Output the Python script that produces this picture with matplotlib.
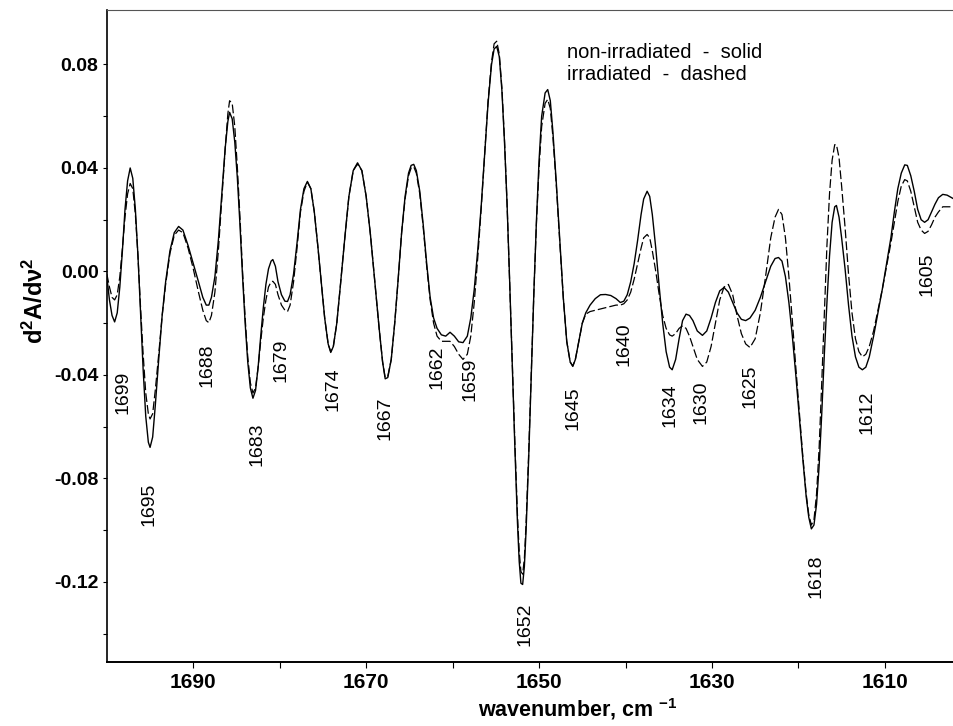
import numpy as np
import matplotlib
matplotlib.use("Agg")
import matplotlib.pyplot as plt
from matplotlib.ticker import FixedLocator, FormatStrFormatter

plt.rcParams['font.family'] = ['Liberation Sans', 'DejaVu Sans']
plt.rcParams['mathtext.fontset'] = 'custom'
plt.rcParams['mathtext.rm'] = 'Liberation Sans'
plt.rcParams['mathtext.bf'] = 'Liberation Sans:bold'
plt.rcParams['mathtext.default'] = 'bf'
plt.rcParams['axes.unicode_minus'] = False

# non-irradiated (solid line), (wavenumber, d2A/dv2)
solid_pts = [
    (1700.0, -0.002), (1699.7, -0.011), (1699.4, -0.017), (1699.1, -0.0195), (1698.8, -0.016),
    (1698.5, -0.006), (1698.2, 0.008), (1697.9, 0.024), (1697.6, 0.035), (1697.3, 0.040),
    (1697.0, 0.036), (1696.7, 0.024), (1696.4, 0.006), (1696.1, -0.016), (1695.8, -0.038),
    (1695.5, -0.056), (1695.2, -0.066), (1695.0, -0.068), (1694.7, -0.064), (1694.4, -0.052),
    (1694.0, -0.034), (1693.6, -0.017), (1693.2, -0.004), (1692.7, 0.008), (1692.2, 0.015),
    (1691.7, 0.0174), (1691.2, 0.016), (1690.6, 0.010), (1690.0, 0.003), (1689.4, -0.004),
    (1688.9, -0.010), (1688.5, -0.013), (1688.2, -0.013), (1687.9, -0.010), (1687.5, -0.002),
    (1687.1, 0.012), (1686.7, 0.030), (1686.3, 0.048), (1686.0, 0.058), (1685.8, 0.0615),
    (1685.5, 0.059), (1685.2, 0.050), (1684.9, 0.036), (1684.6, 0.018), (1684.3, -0.002),
    (1684.0, -0.020), (1683.7, -0.035), (1683.4, -0.045), (1683.1, -0.049), (1682.8, -0.046),
    (1682.5, -0.037), (1682.2, -0.025), (1681.9, -0.014), (1681.6, -0.005), (1681.3, 0.001),
    (1681.0, 0.004), (1680.8, 0.0046), (1680.5, 0.002), (1680.2, -0.004), (1679.8, -0.009),
    (1679.4, -0.0115), (1679.1, -0.0116), (1678.8, -0.009), (1678.4, -0.001), (1678.0, 0.011),
    (1677.6, 0.024), (1677.2, 0.032), (1676.8, 0.0348), (1676.4, 0.032), (1676.0, 0.023),
    (1675.6, 0.010), (1675.2, -0.004), (1674.8, -0.018), (1674.4, -0.028), (1674.1, -0.0313),
    (1673.8, -0.029), (1673.4, -0.020), (1673.0, -0.006), (1672.5, 0.012), (1672.0, 0.029),
    (1671.5, 0.039), (1671.0, 0.042), (1670.5, 0.039), (1670.0, 0.029), (1669.5, 0.014),
    (1669.0, -0.004), (1668.5, -0.022), (1668.1, -0.035), (1667.8, -0.0415), (1667.5, -0.041),
    (1667.1, -0.034), (1666.7, -0.020), (1666.3, -0.003), (1665.9, 0.015), (1665.5, 0.029),
    (1665.1, 0.038), (1664.8, 0.041), (1664.5, 0.0414), (1664.2, 0.039), (1663.8, 0.031),
    (1663.4, 0.018), (1663.0, 0.003), (1662.6, -0.010), (1662.2, -0.018), (1661.8, -0.022),
    (1661.3, -0.0245), (1660.8, -0.025), (1660.3, -0.0235), (1659.8, -0.025), (1659.3, -0.0272),
    (1658.8, -0.0275), (1658.3, -0.025), (1657.9, -0.018), (1657.5, -0.007), (1657.1, 0.008),
    (1656.7, 0.025), (1656.3, 0.045), (1655.9, 0.065), (1655.5, 0.080), (1655.2, 0.086),
    (1654.9, 0.087), (1654.6, 0.083), (1654.3, 0.070), (1654.0, 0.050), (1653.7, 0.026),
    (1653.4, -0.004), (1653.1, -0.036), (1652.8, -0.068), (1652.5, -0.097), (1652.3, -0.112),
    (1652.1, -0.1205), (1651.9, -0.121), (1651.7, -0.114), (1651.5, -0.100), (1651.2, -0.072),
    (1650.9, -0.040), (1650.6, -0.008), (1650.3, 0.020), (1650.0, 0.043), (1649.7, 0.060),
    (1649.3, 0.069), (1649.0, 0.0703), (1648.7, 0.066), (1648.4, 0.054), (1648.0, 0.034),
    (1647.6, 0.012), (1647.2, -0.010), (1646.8, -0.027), (1646.4, -0.035), (1646.1, -0.0367),
    (1645.8, -0.034), (1645.4, -0.027), (1645.0, -0.020), (1644.6, -0.016), (1644.1, -0.013),
    (1643.5, -0.0105), (1642.9, -0.009), (1642.3, -0.0089), (1641.7, -0.0093), (1641.1, -0.0105),
    (1640.6, -0.012), (1640.2, -0.0115), (1639.8, -0.009), (1639.4, -0.004), (1639.0, 0.003),
    (1638.6, 0.012), (1638.2, 0.022), (1637.9, 0.028), (1637.5, 0.031), (1637.2, 0.029),
    (1636.9, 0.022), (1636.5, 0.009), (1636.1, -0.006), (1635.7, -0.020), (1635.3, -0.031),
    (1634.9, -0.037), (1634.6, -0.038), (1634.2, -0.034), (1633.8, -0.026), (1633.4, -0.019),
    (1633.0, -0.0165), (1632.6, -0.017), (1632.2, -0.019), (1631.7, -0.023), (1631.1, -0.0247),
    (1630.6, -0.023), (1630.1, -0.018), (1629.6, -0.012), (1629.1, -0.0075), (1628.6, -0.0062),
    (1628.1, -0.008), (1627.6, -0.012), (1627.1, -0.016), (1626.6, -0.0185), (1626.1, -0.019),
    (1625.6, -0.018), (1625.0, -0.015), (1624.4, -0.010), (1623.8, -0.004), (1623.2, 0.002),
    (1622.7, 0.005), (1622.3, 0.0054), (1621.9, 0.004), (1621.5, -0.002), (1621.1, -0.012),
    (1620.7, -0.025), (1620.3, -0.040), (1619.9, -0.056), (1619.5, -0.072), (1619.1, -0.087),
    (1618.8, -0.095), (1618.5, -0.0995), (1618.2, -0.098), (1617.9, -0.090), (1617.6, -0.075),
    (1617.3, -0.055), (1617.0, -0.032), (1616.7, -0.012), (1616.4, 0.006), (1616.1, 0.019),
    (1615.8, 0.025), (1615.6, 0.0255), (1615.3, 0.021), (1615.0, 0.013), (1614.6, 0.001),
    (1614.2, -0.013), (1613.8, -0.025), (1613.4, -0.033), (1613.0, -0.037), (1612.6, -0.038),
    (1612.2, -0.037), (1611.8, -0.033), (1611.3, -0.025), (1610.8, -0.016), (1610.3, -0.007),
    (1609.8, 0.003), (1609.3, 0.013), (1608.9, 0.023), (1608.5, 0.032), (1608.1, 0.038),
    (1607.7, 0.0412), (1607.4, 0.041), (1607.0, 0.037), (1606.6, 0.031), (1606.2, 0.024),
    (1605.8, 0.020), (1605.4, 0.019), (1605.0, 0.020), (1604.6, 0.023), (1604.2, 0.026),
    (1603.8, 0.0285), (1603.3, 0.0298), (1602.8, 0.0295), (1602.0, 0.028),
]

# irradiated (dashed line)
dashed_pts = [
    (1700.0, -0.001), (1699.7, -0.006), (1699.4, -0.010), (1699.1, -0.011), (1698.8, -0.009),
    (1698.5, -0.002), (1698.2, 0.009), (1697.9, 0.021), (1697.6, 0.030), (1697.3, 0.034),
    (1697.0, 0.032), (1696.7, 0.022), (1696.4, 0.006), (1696.1, -0.014), (1695.8, -0.032),
    (1695.5, -0.047), (1695.2, -0.055), (1695.0, -0.057), (1694.7, -0.055), (1694.4, -0.046),
    (1694.0, -0.032), (1693.6, -0.017), (1693.2, -0.005), (1692.7, 0.007), (1692.2, 0.014),
    (1691.7, 0.016), (1691.2, 0.015), (1690.6, 0.009), (1690.0, 0.001), (1689.4, -0.008),
    (1688.9, -0.015), (1688.5, -0.019), (1688.2, -0.0198), (1687.9, -0.017), (1687.5, -0.008),
    (1687.1, 0.008), (1686.7, 0.028), (1686.3, 0.048), (1686.0, 0.061), (1685.8, 0.066),
    (1685.5, 0.065), (1685.2, 0.056), (1684.9, 0.040), (1684.6, 0.021), (1684.3, 0.000),
    (1684.0, -0.018), (1683.7, -0.033), (1683.4, -0.043), (1683.1, -0.047), (1682.8, -0.045),
    (1682.5, -0.037), (1682.2, -0.027), (1681.9, -0.018), (1681.6, -0.011), (1681.3, -0.006),
    (1681.0, -0.004), (1680.8, -0.0038), (1680.5, -0.005), (1680.2, -0.009), (1679.8, -0.013),
    (1679.4, -0.015), (1679.1, -0.0155), (1678.8, -0.013), (1678.4, -0.004), (1678.0, 0.009),
    (1677.6, 0.023), (1677.2, 0.031), (1676.8, 0.0345), (1676.4, 0.032), (1676.0, 0.023),
    (1675.6, 0.010), (1675.2, -0.004), (1674.8, -0.018), (1674.4, -0.028), (1674.1, -0.031),
    (1673.8, -0.029), (1673.4, -0.020), (1673.0, -0.006), (1672.5, 0.012), (1672.0, 0.029),
    (1671.5, 0.039), (1671.0, 0.0415), (1670.5, 0.039), (1670.0, 0.029), (1669.5, 0.014),
    (1669.0, -0.004), (1668.5, -0.022), (1668.1, -0.035), (1667.8, -0.041), (1667.5, -0.0405),
    (1667.1, -0.034), (1666.7, -0.020), (1666.3, -0.003), (1665.9, 0.015), (1665.5, 0.028),
    (1665.1, 0.037), (1664.8, 0.040), (1664.5, 0.0405), (1664.2, 0.038), (1663.8, 0.030),
    (1663.4, 0.017), (1663.0, 0.002), (1662.6, -0.011), (1662.2, -0.020), (1661.8, -0.025),
    (1661.3, -0.027), (1660.8, -0.027), (1660.3, -0.027), (1659.8, -0.029), (1659.3, -0.032),
    (1658.8, -0.034), (1658.3, -0.032), (1657.9, -0.025), (1657.5, -0.012), (1657.1, 0.005),
    (1656.7, 0.024), (1656.3, 0.045), (1655.9, 0.066), (1655.5, 0.081), (1655.2, 0.088),
    (1654.9, 0.089), (1654.6, 0.084), (1654.3, 0.071), (1654.0, 0.051), (1653.7, 0.026),
    (1653.4, -0.004), (1653.1, -0.035), (1652.8, -0.066), (1652.5, -0.094), (1652.3, -0.108),
    (1652.1, -0.116), (1651.9, -0.117), (1651.7, -0.111), (1651.5, -0.097), (1651.2, -0.070),
    (1650.9, -0.039), (1650.6, -0.008), (1650.3, 0.019), (1650.0, 0.040), (1649.7, 0.056),
    (1649.3, 0.065), (1649.0, 0.0665), (1648.7, 0.063), (1648.4, 0.052), (1648.0, 0.033),
    (1647.6, 0.011), (1647.2, -0.010), (1646.8, -0.027), (1646.4, -0.035), (1646.1, -0.0365),
    (1645.8, -0.034), (1645.4, -0.027), (1645.0, -0.020), (1644.6, -0.0165), (1644.1, -0.0155),
    (1643.5, -0.015), (1642.9, -0.0145), (1642.3, -0.014), (1641.7, -0.0135), (1641.1, -0.013),
    (1640.6, -0.013), (1640.2, -0.0125), (1639.8, -0.011), (1639.4, -0.008), (1639.0, -0.003),
    (1638.6, 0.003), (1638.2, 0.009), (1637.9, 0.013), (1637.5, 0.0143), (1637.2, 0.013),
    (1636.9, 0.008), (1636.5, 0.000), (1636.1, -0.009), (1635.7, -0.017), (1635.3, -0.022),
    (1634.9, -0.0245), (1634.6, -0.025), (1634.2, -0.024), (1633.8, -0.022), (1633.4, -0.021),
    (1633.0, -0.022), (1632.6, -0.025), (1632.2, -0.029), (1631.7, -0.034), (1631.1, -0.0367),
    (1630.6, -0.035), (1630.1, -0.029), (1629.6, -0.020), (1629.1, -0.011), (1628.6, -0.006),
    (1628.1, -0.005), (1627.6, -0.009), (1627.1, -0.017), (1626.6, -0.024), (1626.1, -0.028),
    (1625.6, -0.0294), (1625.0, -0.026), (1624.4, -0.016), (1623.8, -0.002), (1623.2, 0.013),
    (1622.7, 0.021), (1622.3, 0.024), (1621.9, 0.022), (1621.5, 0.013), (1621.1, -0.002),
    (1620.7, -0.019), (1620.3, -0.037), (1619.9, -0.054), (1619.5, -0.071), (1619.1, -0.086),
    (1618.8, -0.094), (1618.5, -0.098), (1618.2, -0.096), (1617.9, -0.086), (1617.6, -0.068),
    (1617.3, -0.043), (1617.0, -0.016), (1616.7, 0.010), (1616.4, 0.030), (1616.1, 0.043),
    (1615.8, 0.049), (1615.6, 0.049), (1615.3, 0.044), (1615.0, 0.033), (1614.6, 0.017),
    (1614.2, -0.001), (1613.8, -0.016), (1613.4, -0.026), (1613.0, -0.031), (1612.6, -0.033),
    (1612.2, -0.032), (1611.8, -0.029), (1611.3, -0.023), (1610.8, -0.015), (1610.3, -0.007),
    (1609.8, 0.002), (1609.3, 0.011), (1608.9, 0.019), (1608.5, 0.027), (1608.1, 0.033),
    (1607.7, 0.0355), (1607.4, 0.035), (1607.0, 0.031), (1606.6, 0.025), (1606.2, 0.019),
    (1605.8, 0.016), (1605.4, 0.0147), (1605.0, 0.0155), (1604.6, 0.018), (1604.2, 0.021),
    (1603.8, 0.023), (1603.3, 0.025), (1602.8, 0.025), (1602.0, 0.025),
]

# band assignments and where their labels sit
band_labels = ["1699", "1695", "1688", "1683", "1679", "1674", "1667", "1662", "1659",
               "1652", "1645", "1640", "1634", "1630", "1625", "1618", "1612", "1605"]
band_x = [1698.1, 1695.1, 1688.4, 1682.6, 1679.8, 1673.8, 1667.8, 1661.8, 1658.0,
          1651.6, 1646.1, 1640.2, 1634.9, 1631.3, 1625.6, 1618.0, 1612.1, 1605.1]
band_y = [-0.0468, -0.090, -0.0363, -0.0669, -0.0344, -0.0456, -0.0568, -0.0371, -0.0417,
          -0.1364, -0.0530, -0.0282, -0.0518, -0.0506, -0.0444, -0.1179, -0.0545, -0.0012]


def run():
    solid = np.array(solid_pts)
    dashed = np.array(dashed_pts)

    fig = plt.figure(figsize=(9.54, 7.26), dpi=100)
    ax = fig.add_axes([0.112, 0.088, 0.888, 0.898])

    ax.plot(solid[:, 0], solid[:, 1], color="black", linewidth=1.0)
    ax.plot(dashed[:, 0], dashed[:, 1], color="black", linewidth=0.9, dashes=(7, 2.5))

    for lab, x, y in zip(band_labels, band_x, band_y):
        ax.text(x, y, lab, rotation=90, ha="center", va="center", fontsize=14)

    ax.text(0.543, 0.95, "non-irradiated  -  solid\nirradiated  -  dashed",
            transform=ax.transAxes, ha="left", va="top", fontsize=14.5, linespacing=1.2)

    ax.set_xlim(1700, 1602)
    ax.set_ylim(-0.151, 0.101)
    ax.xaxis.set_major_locator(FixedLocator([1690, 1670, 1650, 1630, 1610]))
    ax.xaxis.set_minor_locator(FixedLocator([1680, 1660, 1640, 1620]))
    ax.yaxis.set_major_locator(FixedLocator([-0.12, -0.08, -0.04, 0.0, 0.04, 0.08]))
    ax.yaxis.set_minor_locator(FixedLocator([-0.14, -0.10, -0.06, -0.02, 0.02, 0.06]))
    ax.yaxis.set_major_formatter(FormatStrFormatter("%.2f"))
    ax.tick_params(axis="x", which="both", direction="out", length=4, width=0.8,
                   labelsize=15, pad=4)
    ax.tick_params(axis="y", which="both", direction="out", length=3, width=0.8,
                   labelsize=14, pad=3)
    for t in ax.get_xticklabels() + ax.get_yticklabels():
        t.set_fontweight("bold")

    ax.spines["right"].set_visible(False)
    ax.spines["top"].set_color("#555555")
    ax.spines["left"].set_linewidth(1.2)
    ax.spines["bottom"].set_linewidth(1.4)

    ax.set_ylabel(r"d$^2$A/d$\nu^2$", fontsize=17, fontweight="bold")
    ax.yaxis.set_label_coords(-0.07, 0.555)
    ax.set_xlabel(r"wavenumber, cm $^{-1}$", fontsize=15.5, fontweight="bold")
    ax.xaxis.set_label_coords(0.556, -0.052)

    fig.savefig("out.png", dpi=100)


if __name__ == "__main__":
    run()
